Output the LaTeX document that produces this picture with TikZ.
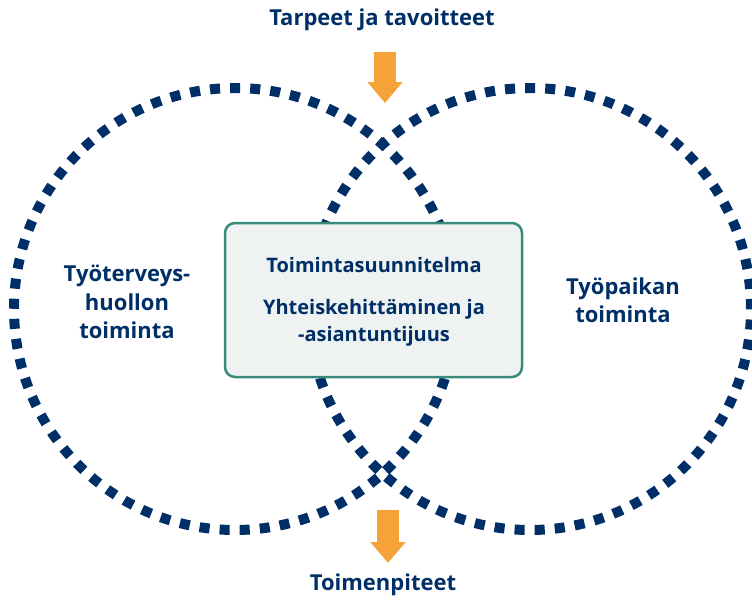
\documentclass[tikz,border=0pt]{standalone}
\usepackage{fontspec}
\setmainfont{Open Sans}
\usepackage{tikz}
\usetikzlibrary{arrows.meta, positioning}
\definecolor{navy}{RGB}{0,47,103}
\definecolor{tangerine}{RGB}{245,162,56}
\definecolor{boxline}{RGB}{58,138,124}
\definecolor{boxfill}{RGB}{238,243,242}
\tikzstyle{ring} = [circle, draw=navy, line width=10pt, dash pattern=on 10.06pt off 10.06pt, minimum size=442pt, inner sep=0pt]
\tikzstyle{heading} = [text=navy, font=\bfseries\fontsize{22}{28.5}\selectfont, align=center]
\tikzstyle{plan} = [rectangle, rounded corners=10pt, draw=boxline, line width=2.5pt, fill=boxfill, minimum width=297pt, minimum height=154pt]
\tikzstyle{flow} = [tangerine, line width=22pt, -{Triangle[width=34pt,length=21pt]}]

\begin{document}
\begin{tikzpicture}[x=1pt, y=-1pt]
\useasboundingbox (0,0) rectangle (752,600);

% two rings
\node[ring] (occ) at (235,309) {};
\node[ring] (work) at (530,309) {};

% centre box
\node[plan] (box) at (373.5,300) {};
\node[heading, font=\bfseries\fontsize{20}{27}\selectfont] (plantext) at (374,302) {Toimintasuunnitelma\\[15pt]Yhteiskehittäminen ja\\-asiantuntijuus};

% side texts
\node[heading] (occtext) at (127,302) {Työterveys-\\huollon\\toiminta};
\node[heading] (worktext) at (623,300) {Työpaikan\\toiminta};

% in and out
\node[heading] (needs) at (382,20) {Tarpeet ja tavoitteet};
\node[heading] (actions) at (383,585) {Toimenpiteet};
\coordinate (inA) at (385,52);
\coordinate (inB) at (385,103);
\coordinate (outA) at (388,510);
\coordinate (outB) at (388,563);
\draw[flow] (inA) -- (inB);
\draw[flow] (outA) -- (outB);

\end{tikzpicture}
\end{document}
